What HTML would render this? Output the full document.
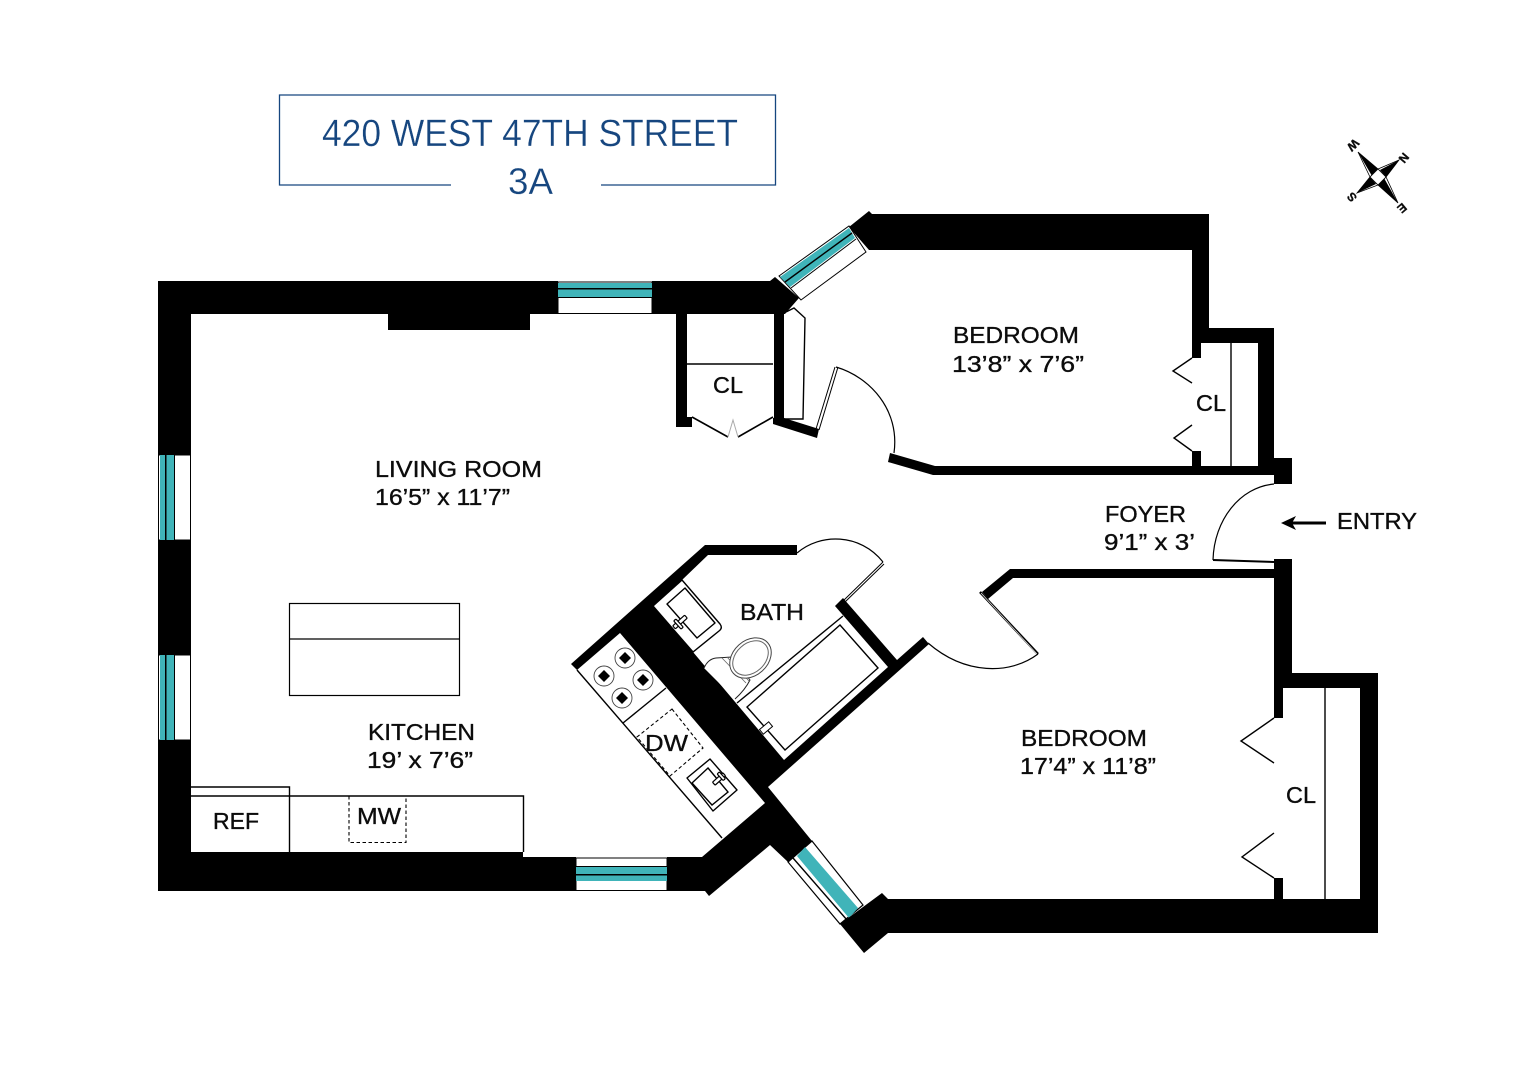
<!DOCTYPE html>
<html><head><meta charset="utf-8"><style>
html,body{margin:0;padding:0;background:#fff}
svg{display:block}
text{font-family:"Liberation Sans",sans-serif;fill:#0c0c0c;stroke:#0c0c0c;stroke-width:.35}
.t{fill:#16467f;stroke:#fff;stroke-width:.3}
.l{fill:none;stroke:#000;stroke-width:1.4}
.w{fill:#000;stroke:none}
.tl{fill:#40b4b9;stroke:none}
</style></head><body>
<svg width="1536" height="1084" viewBox="0 0 1536 1084" xmlns="http://www.w3.org/2000/svg">
<path d="M451,185H279.500V95H775.500V185H601" fill="none" stroke="#16467f" stroke-width="1.300"/>
<text class="t" x="322" y="146" font-size="38" textLength="416" lengthAdjust="spacingAndGlyphs">420 WEST 47TH STREET</text>
<text class="t" x="508" y="194" font-size="37" textLength="45" lengthAdjust="spacingAndGlyphs">3A</text>

<!-- compass -->
<g>
<path d="M1358,152L1378,169L1370,177Z M1399,160L1378,169L1386,177Z M1398,203L1386,177L1378,185Z M1357,193L1370,177L1378,185Z" fill="#fff" stroke="#000" stroke-width=".8"/>
<path d="M1358,152L1378,169L1372,176Z M1399,160L1386,177L1380,170Z M1398,203L1378,185L1384,178Z M1357,193L1370,177L1376,184Z" fill="#000"/>
<path d="M1378,169L1386,177L1378,185L1370,177Z" fill="#fff" stroke="#000" stroke-width=".8"/>
<g font-size="12" font-weight="bold" text-anchor="middle">
<text transform="translate(1353,145) rotate(135)" y="4">W</text>
<text transform="translate(1404,158) rotate(-50)" y="4">N</text>
<text transform="translate(1352,197) rotate(-130)" y="4">S</text>
<text transform="translate(1402,208) rotate(140)" y="4">E</text>
</g></g>

<!-- windows -->
<g>
<rect x="158.500" y="455" width="32" height="85" fill="#fff" stroke="#000" stroke-width="1"/>
<rect class="tl" x="160" y="455" width="14" height="85"/><rect x="165" y="455" width="1.500" height="85"/><rect x="174" y="455" width="1" height="85"/>
<rect x="158.500" y="655" width="32" height="85" fill="#fff" stroke="#000" stroke-width="1"/>
<rect class="tl" x="160" y="655" width="14" height="85"/><rect x="165" y="655" width="1.500" height="85"/><rect x="174" y="655" width="1" height="85"/>
<rect x="558" y="282" width="94" height="31.500" fill="#fff" stroke="#000" stroke-width="1"/>
<rect class="tl" x="558" y="283" width="94" height="14"/><rect x="558" y="288" width="94" height="1.500"/><rect x="558" y="297" width="94" height="1"/>
<rect x="576" y="858" width="91" height="32.500" fill="#fff" stroke="#000" stroke-width="1"/>
<rect class="tl" x="576" y="867" width="91" height="14"/><rect x="576" y="874" width="91" height="1.500"/><rect x="576" y="866" width="91" height="1"/>
<polygon points="779,276 849,226 866,252 801,300" fill="#fff" stroke="#000" stroke-width="1"/>
<polygon class="tl" points="780,277 849,228 855,238 790,287"/>
<path d="M785,282L852,233" class="l"/><path d="M791,288L856,239" fill="none" stroke="#000" stroke-width="1"/>
<polygon points="788,862 812,841 863,905 840,924" fill="#fff" stroke="#000" stroke-width="1.200"/>
<polygon class="tl" points="805,847 858,908 849,918 797,856"/>
<path d="M793,858L847,920" class="l"/>
</g>

<!-- walls -->
<g class="w">
<polygon points="158,281 558,281 558,314 191,314 191,455 158,455"/>
<rect x="158" y="540" width="33" height="115"/>
<polygon points="158,740 191,740 191,852 523,852 523,857 576,857 576,891 158,891"/>
<rect x="388" y="314" width="142" height="16"/>
<polygon points="652,281 770,281 775,277 799,298 785,314 652,314"/>
<polygon points="676,314 687,314 687,417 692,417 692,427 676,427"/>
<rect x="774" y="312" width="10" height="107"/>
<polygon points="773,418 784,418 819,429 817,438 773,424"/>
<polygon points="849,227 869,211 872,214 1209,214 1209,328 1274,328 1274,458 1292,458 1292,484 1274,484 1274,475 933,475 888,462 890,453 935,466 1258,466 1258,343 1201,343 1201,358 1192,358 1192,250 869,250"/>
<rect x="1192" y="451" width="9" height="16"/>
<polygon points="1274,559 1292,559 1292,673 1378,673 1378,933 888,933 864,953 840,924 882,893 888,899 1360,899 1360,688 1283,688 1283,718 1274,718"/>
<rect x="1274" y="878" width="9" height="22"/>
<polygon points="982,592 1010,569 1274,569 1274,578 1013,578 988,599"/>
<polygon points="571,664 705,545 797,545 797,555 708,555 682,580 653,606 693,652 784,760 888,667 835,606 843,598 897,660 923,637 929,644 768,787 812,841 788,862 770,845 709,896 705,891 667,891 667,857 702,857 765,803 620,633 577,670"/>
</g>

<!-- living closet -->
<path d="M687,364H773" class="l"/>
<path d="M692,417L728,437M738,437L773,417" fill="none" stroke="#000" stroke-width="1.600"/>
<path d="M728,437L733,420L738,437" fill="none" stroke="#aaa" stroke-width="1"/>
<path d="M786,312L794,308L805,318L803,419H784" class="l"/>

<!-- door bedroom 1 -->
<path d="M819,430L838,367M816,429L835,367" fill="none" stroke="#000" stroke-width="1"/>
<path d="M836,367C870,377 900,410 894,453" fill="none" stroke="#000" stroke-width="1.200"/>

<!-- bedroom 1 closet -->
<path d="M1231,343V466" class="l"/>
<path d="M1192,358L1173,371L1192,383M1192,425L1174,438L1192,451" class="l"/>

<!-- entry door -->
<path d="M1213,560L1274,562" fill="none" stroke="#000" stroke-width="2"/>
<path d="M1213,560C1214,520 1240,487 1274,484" fill="none" stroke="#000" stroke-width="1.200"/>
<path d="M1326,523H1292" stroke="#000" stroke-width="3"/>
<polygon points="1281,523 1296,516 1292,523 1296,530"/>

<!-- bedroom 2 door -->
<path d="M980,592L1038,654" fill="none" stroke="#000" stroke-width="2.500"/>
<path d="M981,593L1037,654" fill="none" stroke="#fff" stroke-width=".6"/>
<path d="M1038,654C1010,675 965,675 928,643" fill="none" stroke="#000" stroke-width="1.200"/>

<!-- bedroom 2 closet -->
<path d="M1325,688V899" class="l"/>
<path d="M1274,718L1241,741L1274,763M1274,833L1242,857L1274,878" class="l"/>

<!-- bath door -->
<path d="M797,553C820,533 860,533 883,562" fill="none" stroke="#000" stroke-width="1.200"/>
<path d="M883,562L843,601M884,564L845,602" fill="none" stroke="#000" stroke-width="1"/>

<!-- tub -->
<path d="M843,616L737,703" class="l"/>
<path d="M840,625L878,668L785,750L747,707Z" class="l"/>
<g transform="translate(766,728) rotate(-40)"><rect x="-6" y="-3" width="12" height="6" fill="#fff" stroke="#000" stroke-width="1"/></g>

<!-- bath sink -->
<path d="M682,580L720,624Q723,628 719,631L693,652L653,606Z" class="l" fill="#fff"/>
<path d="M685,588L715,623L697,638L667,604Z" class="l" stroke-linejoin="round"/>
<g transform="translate(680,622) rotate(-42)"><rect x="-8" y="-2" width="16" height="4" fill="#fff" stroke="#000" stroke-width="1.200" rx="1"/><rect x="-4" y="-5" width="3" height="11" fill="#fff" stroke="#000" stroke-width="1.200" rx="1"/></g>

<!-- toilet -->
<path d="M704,668Q708,659 716,658L732,657L750,680Q745,690 735,699" fill="#fff" stroke="#222" stroke-width="1"/>
<path d="M722,658L746,683M727,657L749,681" fill="none" stroke="#666" stroke-width=".8"/>
<ellipse cx="750.500" cy="658" rx="23" ry="17.500" transform="rotate(-42 750.500 658)" fill="#fff" stroke="#444" stroke-width="1"/>
<ellipse cx="750.500" cy="658" rx="20" ry="14.500" transform="rotate(-42 750.500 658)" fill="#fff" stroke="#666" stroke-width="1"/>

<!-- stove + kitchen counter -->
<path d="M577,670L722,838" class="l"/>
<path d="M623,723L666,688" class="l"/>
<g fill="#fff" stroke="#444" stroke-width=".9">
<circle cx="625" cy="658" r="10"/><circle cx="604" cy="676" r="10"/><circle cx="643" cy="680" r="10"/><circle cx="622" cy="698" r="10"/></g>
<g fill="#000">
<polygon points="625,652 631,658 625,664 619,658"/><polygon points="604,670 610,676 604,682 598,676"/><polygon points="643,674 649,680 643,686 637,680"/><polygon points="622,692 628,698 622,704 616,698"/></g>
<path d="M672,709L703,748L670,776L637,737Z" fill="none" stroke="#000" stroke-width="1.100" stroke-dasharray="3.500 2.500"/>
<path d="M710,759L737,790L713,811L687,778Z" class="l" stroke-linejoin="round" fill="#fff"/>
<path d="M708,768L728,792L712,805L692,783Z" class="l"/>
<g transform="translate(719,779) rotate(-42)"><rect x="-7" y="-2" width="14" height="4" fill="#fff" stroke="#000" stroke-width="1.200" rx="1"/><rect x="2" y="-5" width="3" height="9" fill="#fff" stroke="#000" stroke-width="1.200" rx="1"/></g>

<!-- kitchen ref + counter -->
<path d="M191,787H289.500V852M191,796H523.500V852" class="l"/>
<path d="M349,796V842.500H406V796" fill="none" stroke="#000" stroke-width="1.100" stroke-dasharray="3.500 2.500"/>

<!-- island -->
<rect x="289.500" y="603.500" width="170" height="92" fill="#fff" stroke="#000" stroke-width="1.200"/>
<path d="M289,639H459" stroke="#000" stroke-width="1.200"/>

<!-- labels -->
<g font-size="23">
<text x="953" y="343" textLength="126" lengthAdjust="spacingAndGlyphs">BEDROOM</text>
<text x="952" y="372" textLength="132" lengthAdjust="spacingAndGlyphs">13’8” x 7’6”</text>
<text x="375" y="477" textLength="167" lengthAdjust="spacingAndGlyphs">LIVING ROOM</text>
<text x="375" y="505" textLength="135" lengthAdjust="spacingAndGlyphs">16’5” x 11’7”</text>
<text x="368" y="740" textLength="107" lengthAdjust="spacingAndGlyphs">KITCHEN</text>
<text x="367" y="768" textLength="106" lengthAdjust="spacingAndGlyphs">19’ x 7’6”</text>
<text x="1021" y="746" textLength="126" lengthAdjust="spacingAndGlyphs">BEDROOM</text>
<text x="1020" y="774" textLength="136" lengthAdjust="spacingAndGlyphs">17’4” x 11’8”</text>
<text x="740" y="620" textLength="64" lengthAdjust="spacingAndGlyphs">BATH</text>
<text x="645" y="751" textLength="43" lengthAdjust="spacingAndGlyphs">DW</text>
<text x="357" y="824" textLength="44" lengthAdjust="spacingAndGlyphs">MW</text>
<text x="213" y="829" textLength="46" lengthAdjust="spacingAndGlyphs">REF</text>
<text x="713" y="393" textLength="30" lengthAdjust="spacingAndGlyphs">CL</text>
<text x="1196" y="411" textLength="30" lengthAdjust="spacingAndGlyphs">CL</text>
<text x="1286" y="803" textLength="30" lengthAdjust="spacingAndGlyphs">CL</text>
<text x="1105" y="522" textLength="81" lengthAdjust="spacingAndGlyphs">FOYER</text>
<text x="1104" y="550" textLength="91" lengthAdjust="spacingAndGlyphs">9’1” x 3’</text>
<text x="1337" y="529" textLength="80" lengthAdjust="spacingAndGlyphs">ENTRY</text>
</g>
</svg>
</body></html>
